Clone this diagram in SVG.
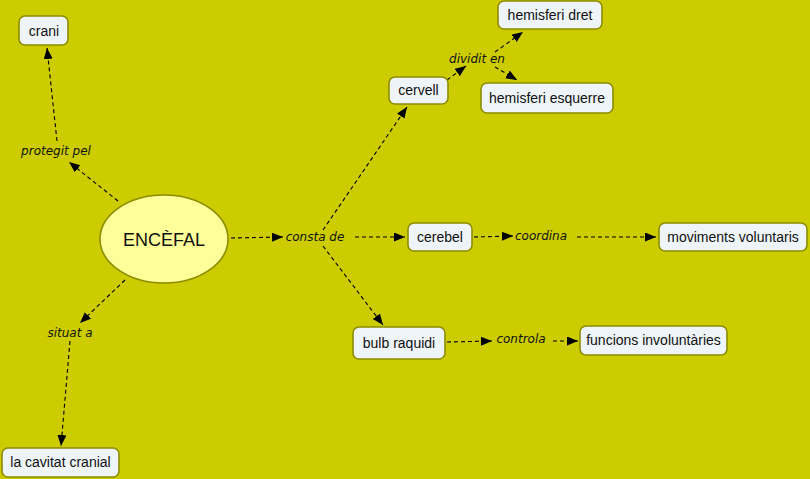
<svg xmlns="http://www.w3.org/2000/svg" width="810" height="479" viewBox="0 0 810 479">
<defs>
<marker id="ah" markerUnits="userSpaceOnUse" markerWidth="12" markerHeight="10" refX="11" refY="4.5" orient="auto">
<path d="M0,0 L11,4.5 L0,9 z" fill="#000"/>
</marker>
<style>
.n rect{fill:#eef4f7;stroke:#8c8c00;stroke-width:1.6}
.n text{font-family:"Liberation Sans",Arial,sans-serif;font-size:14px;fill:#111;text-anchor:middle}
.l{font-family:"DejaVu Sans",Verdana,sans-serif;font-size:12px;font-style:italic;fill:#111;text-anchor:middle}
#connectors line{stroke:#000;stroke-width:1.1;stroke-dasharray:4 3;marker-end:url(#ah);fill:none}
</style>
</defs>
<rect x="0" y="0" width="810" height="479" fill="#cccc00"/>
<g id="connectors">
<line x1="118" y1="201" x2="69" y2="162"/>
<line x1="57" y1="141" x2="47" y2="48"/>
<line x1="125" y1="280" x2="80" y2="323"/>
<line x1="70" y1="341" x2="61" y2="446"/>
<line x1="231" y1="238" x2="283" y2="237"/>
<line x1="323" y1="230" x2="407" y2="107"/>
<line x1="355" y1="237" x2="405" y2="237"/>
<line x1="323" y1="246" x2="383" y2="325"/>
<line x1="447" y1="80" x2="466" y2="66"/>
<line x1="495" y1="52" x2="523" y2="32"/>
<line x1="495" y1="67" x2="517" y2="80"/>
<line x1="474" y1="237" x2="513" y2="236"/>
<line x1="577" y1="237" x2="656" y2="237"/>
<line x1="447" y1="342" x2="492" y2="341"/>
<line x1="553" y1="341" x2="578" y2="341"/>
</g>
<g id="labels">
<text class="l" x="56" y="155">protegit pel</text>
<text class="l" x="70" y="337">situat a</text>
<text class="l" x="315" y="241">consta de</text>
<text class="l" x="477" y="63">dividit en</text>
<text class="l" x="541" y="240">coordina</text>
<text class="l" x="521" y="343">controla</text>
</g>
<g id="encefal">
<ellipse cx="164" cy="239" rx="64" ry="44" fill="#ffff99" stroke="#8c8c00" stroke-width="1.6"/>
<text x="164" y="246" font-family="Liberation Sans,Arial,sans-serif" font-size="18" text-anchor="middle" fill="#111">ENCÈFAL</text>
</g>
<g id="crani" class="n"><rect x="19" y="16" width="49" height="29" rx="6"/><text x="44" y="36">crani</text></g>
<g id="cervell" class="n"><rect x="389" y="77" width="59" height="27" rx="6"/><text x="418.5" y="95">cervell</text></g>
<g id="hemisferi-dret" class="n"><rect x="498" y="1" width="104" height="28" rx="6"/><text x="550" y="20">hemisferi dret</text></g>
<g id="hemisferi-esquerre" class="n"><rect x="481" y="83" width="132" height="30" rx="6"/><text x="547" y="103">hemisferi esquerre</text></g>
<g id="cerebel" class="n"><rect x="408" y="223" width="64" height="28" rx="6"/><text x="440" y="242">cerebel</text></g>
<g id="moviments-voluntaris" class="n"><rect x="659" y="223" width="148" height="28" rx="6"/><text x="733" y="242">moviments voluntaris</text></g>
<g id="bulb-raquidi" class="n"><rect x="353" y="327" width="92" height="32" rx="6"/><text x="399" y="348">bulb raquidi</text></g>
<g id="funcions-involuntaries" class="n"><rect x="580" y="326" width="147" height="29" rx="6"/><text x="653.5" y="345">funcions involuntàries</text></g>
<g id="cavitat-cranial" class="n"><rect x="2" y="448" width="117" height="29" rx="6"/><text x="60.5" y="467">la cavitat cranial</text></g>
</svg>
